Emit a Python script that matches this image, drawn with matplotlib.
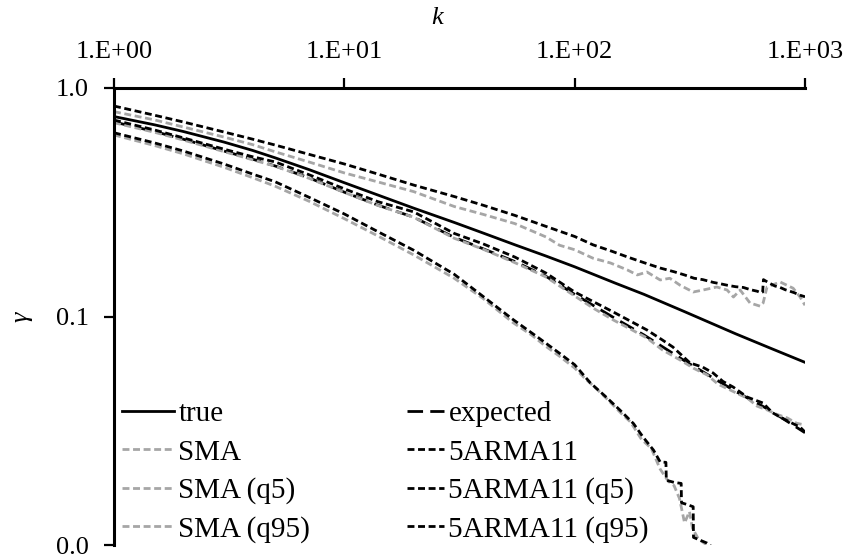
import matplotlib
matplotlib.use("Agg")
import matplotlib.pyplot as plt
import matplotlib.ticker as mticker
import numpy as np

# lag grid shared by the theoretical curves
k_smooth = [1, 1.5, 2, 3, 4, 5, 7, 10, 14, 20, 30, 40, 55, 75, 100, 150, 200, 300, 500, 700, 1000]
gamma_true = [0.75, 0.69, 0.645, 0.58, 0.533, 0.495, 0.44, 0.385, 0.34, 0.298, 0.258,
              0.232, 0.206, 0.184, 0.165, 0.140, 0.125, 0.105, 0.084, 0.073, 0.063]
gamma_expected = [0.71, 0.645, 0.597, 0.53, 0.488, 0.456, 0.405, 0.35, 0.307, 0.272, 0.222,
                  0.198, 0.174, 0.15, 0.125, 0.098, 0.083, 0.064, 0.047, 0.039, 0.031]

# SMA estimator: mean and 5% / 95% quantiles
k_sma = [1, 1.5, 2, 3, 4, 5, 7, 10, 14, 20, 30, 40, 55, 75, 100, 120, 147, 175, 206, 240,
         287, 330, 376, 420, 473, 520, 561, 620, 685, 760, 836, 920, 1000]
gamma_sma = [0.705, 0.64, 0.592, 0.527, 0.485, 0.455, 0.403, 0.349, 0.306, 0.272,
             0.22, 0.197, 0.172, 0.149, 0.123, 0.109, 0.0966, 0.088, 0.0805, 0.0715,
             0.0645, 0.0592, 0.0555, 0.0505, 0.0477, 0.0455, 0.044, 0.0405, 0.039, 0.0372,
             0.036, 0.0341, 0.0335]

k_sma_q5 = [1, 1.5, 2, 3, 4, 5, 7, 10, 14, 20, 30, 40, 54, 65, 75, 86, 100, 110, 125, 140,
            160, 175, 195, 215, 235, 255, 270, 285, 300, 315, 325, 345, 370, 390, 420]
gamma_sma_q5 = [0.623, 0.56, 0.515, 0.45, 0.405, 0.372, 0.32, 0.268, 0.225, 0.186,
                0.147, 0.12, 0.094, 0.083, 0.074, 0.067, 0.0595, 0.054, 0.048, 0.043,
                0.0375, 0.0345, 0.029, 0.0265, 0.0215, 0.019, 0.0182, 0.016, 0.0125, 0.014,
                0.0118, 0.0106, 0.0101, 0.0097, 0.009]

k_sma_q95 = [1, 1.5, 2, 3, 4, 5, 7, 10, 14, 20, 30, 40, 55, 75, 86, 100, 120, 143, 169, 187,
             206, 235, 259, 287, 327, 361, 414, 459, 489, 523, 577, 638, 658, 684, 780, 888,
             952, 1000]
gamma_sma_q95 = [0.788, 0.725, 0.675, 0.61, 0.565, 0.526, 0.475, 0.425, 0.388, 0.352,
                 0.303, 0.28, 0.255, 0.223, 0.205, 0.196, 0.18, 0.1715, 0.16, 0.152,
                 0.1566, 0.1445, 0.147, 0.137, 0.128, 0.1306, 0.1346, 0.1306, 0.1217, 0.1306,
                 0.1146, 0.111, 0.1146, 0.1346, 0.1416, 0.133, 0.1217, 0.112]

# 5ARMA11 estimator: mean and 5% / 95% quantiles
k_arma = [1, 1.5, 2, 3, 4, 5, 7, 10, 14, 20, 30, 40, 55, 75, 100, 147, 206, 240, 267, 317,
          360, 399, 440, 488, 561, 610, 658, 720, 780, 860, 952, 1000]
gamma_arma = [0.724, 0.655, 0.605, 0.54, 0.50, 0.475, 0.418, 0.362, 0.318, 0.287,
              0.231, 0.208, 0.182, 0.155, 0.128, 0.1047, 0.0873, 0.079, 0.0735, 0.0626,
              0.060, 0.0566, 0.052, 0.0491, 0.0444, 0.043, 0.0418, 0.038, 0.0363, 0.0345,
              0.0328, 0.0312]

k_arma_q5 = [1, 1.5, 2, 3, 4, 5, 7, 10, 14, 20, 30, 40, 54, 70, 86, 100, 117, 135, 157, 180,
             198, 220, 235, 249, 250, 270, 290, 291, 310, 327, 328, 350, 375, 395, 420]
gamma_arma_q5 = [0.637, 0.575, 0.53, 0.465, 0.42, 0.389, 0.333, 0.281, 0.235, 0.195,
                 0.153, 0.1225, 0.097, 0.0804, 0.069, 0.0615, 0.0512, 0.045, 0.039, 0.034,
                 0.0297, 0.026, 0.0231, 0.023, 0.0192, 0.0188, 0.0186, 0.0153, 0.015, 0.0147,
                 0.0108, 0.0105, 0.0102, 0.0098, 0.0088]

k_arma_q95 = [1, 1.5, 2, 3, 4, 5, 7, 10, 14, 20, 30, 40, 55, 75, 100, 120, 145, 170, 200, 235,
              270, 300, 330, 360, 400, 430, 460, 500, 540, 580, 620, 645, 655, 660, 700, 740,
              780, 820, 860, 900, 950, 1000]
gamma_arma_q95 = [0.834, 0.76, 0.71, 0.642, 0.597, 0.563, 0.513, 0.465, 0.42, 0.376,
                  0.335, 0.307, 0.277, 0.248, 0.224, 0.206, 0.193, 0.182, 0.172, 0.163,
                  0.157, 0.152, 0.147, 0.145, 0.141, 0.139, 0.137, 0.135, 0.134, 0.131,
                  0.129, 0.127, 0.128, 0.145, 0.140, 0.136, 0.134, 0.131, 0.129, 0.127,
                  0.124, 0.122]

GREY = "#a6a6a6"
LW = 2.0
short_dash = (0, (2.5, 1.3))
long_dash = (0, (5.6, 2.6))

plt.rcParams.update({
    "font.family": ["Liberation Serif", "DejaVu Serif"],
    "font.size": 19,
})

fig = plt.figure(figsize=(8.47, 5.59), dpi=100)
ax = fig.add_axes([114 / 847, 14 / 559, 691 / 847, 457 / 559])

ax.plot(k_smooth, gamma_true, color="black", lw=LW, label="true")
ax.plot(k_smooth, gamma_expected, color="black", lw=LW, ls=long_dash, label="expected")
ax.plot(k_sma, gamma_sma, color=GREY, lw=LW, ls=short_dash, label="SMA")
ax.plot(k_sma_q5, gamma_sma_q5, color=GREY, lw=LW, ls=short_dash, label="SMA (q5)")
ax.plot(k_sma_q95, gamma_sma_q95, color=GREY, lw=LW, ls=short_dash, label="SMA (q95)")
ax.plot(k_arma, gamma_arma, color="black", lw=LW, ls=short_dash, label="5ARMA11")
ax.plot(k_arma_q5, gamma_arma_q5, color="black", lw=LW, ls=short_dash, label="5ARMA11 (q5)")
ax.plot(k_arma_q95, gamma_arma_q95, color="black", lw=LW, ls=short_dash, label="5ARMA11 (q95)")

ax.set_xscale("log")
ax.set_yscale("log")
ax.set_xlim(1, 1000)
ax.set_ylim(0.01, 1)

ax.xaxis.tick_top()
ax.xaxis.set_label_position("top")
ax.set_xticks([1, 10, 100, 1000])
ax.set_yticks([0.01, 0.1, 1])
ax.xaxis.set_major_formatter(mticker.FuncFormatter(lambda v, _: f"1.E+{int(round(np.log10(v))):02d}"))
ax.yaxis.set_major_formatter(mticker.FuncFormatter(lambda v, _: f"{v:.1f}"))
ax.minorticks_off()
ax.tick_params(axis="both", direction="out", length=7, width=1.6, pad=11)

for side in ("right", "bottom"):
    ax.spines[side].set_visible(False)
for side in ("top", "left"):
    ax.spines[side].set_linewidth(2.2)

ax.set_xlabel("k", fontstyle="italic")
ax.xaxis.set_label_coords(0.467, 1.139)
ax.set_ylabel("γ", fontstyle="italic")
ax.yaxis.set_label_coords(-0.118, 0.5)

# two legend blocks, one per estimator family
handles, labels = ax.get_legend_handles_labels()
left_idx = [0, 2, 3, 4]
right_idx = [1, 5, 6, 7]
leg_opts = dict(frameon=False, loc="lower left", handletextpad=0.15, fontsize=21,
                labelspacing=0.40, borderaxespad=0, borderpad=0)
leg1 = ax.legend([handles[i] for i in left_idx], [labels[i] for i in left_idx],
                 bbox_to_anchor=(8 / 691, 0.005), handlelength=1.78, **leg_opts)
ax.add_artist(leg1)
ax.legend([handles[i] for i in right_idx], [labels[i] for i in right_idx],
          bbox_to_anchor=(293 / 691, 0.005), handlelength=1.27, **leg_opts)

fig.savefig("out.png", dpi=100, facecolor="white")
